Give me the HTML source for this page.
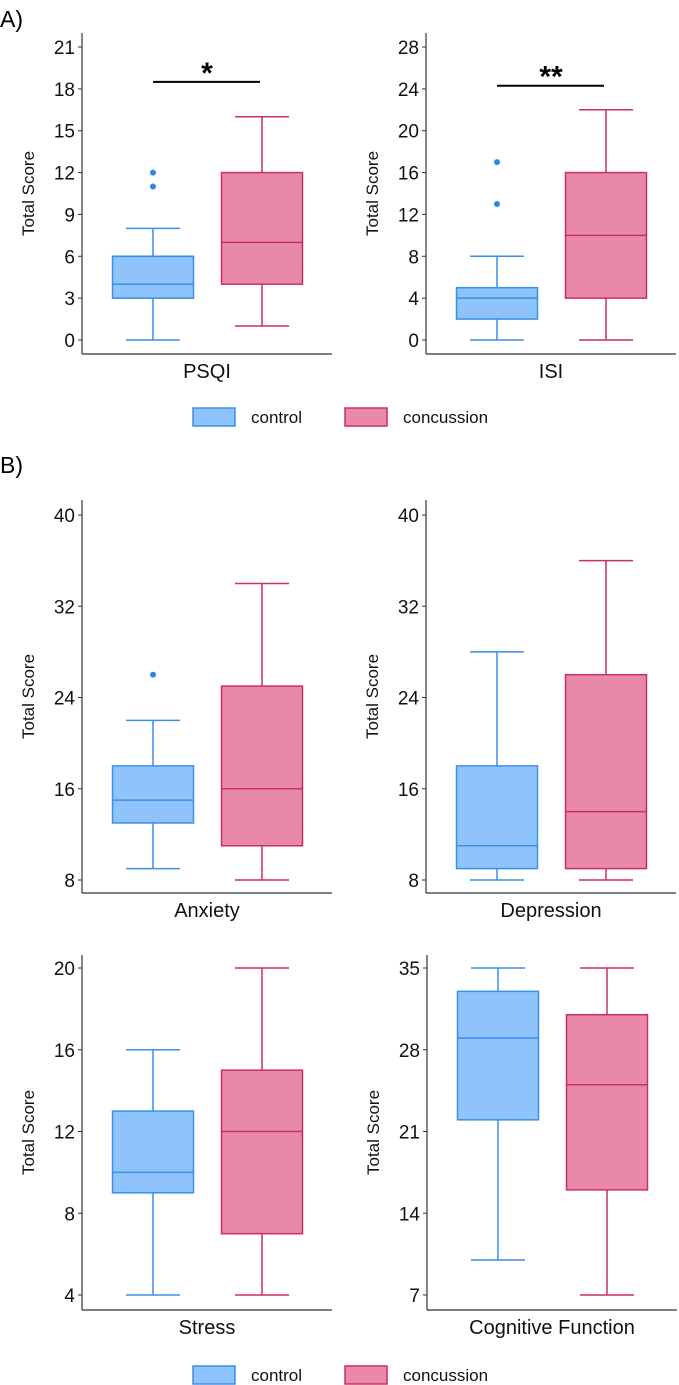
<!DOCTYPE html>
<html><head><meta charset="utf-8">
<style>
html,body{margin:0;padding:0;background:#fff;}
svg{display:block;font-family:"Liberation Sans",Arial,sans-serif;}
</style></head>
<body>
<svg id="chart" width="679" height="1385" viewBox="0 0 679 1385" xmlns="http://www.w3.org/2000/svg">
<text x="0" y="27" font-size="23" fill="#000">A)</text>
<text x="0" y="473" font-size="23" fill="#000">B)</text>
</svg>
<script>
// ---- data ----
const panelNames = ["PSQI","ISI","Anxiety","Depression","Stress","Cognitive Function"];
const yTicksPSQI = [0,3,6,9,12,15,18,21];
const yTicksISI = [0,4,8,12,16,20,24,28];
const yTicksAnx = [8,16,24,32,40];
const yTicksDep = [8,16,24,32,40];
const yTicksStress = [4,8,12,16,20];
const yTicksCog = [7,14,21,28,35];
// [min, q1, median, q3, max]
const controlPSQI = [0,3,4,6,8];
const concussPSQI = [1,4,7,12,16];
const controlISI = [0,2,4,5,8];
const concussISI = [0,4,10,16,22];
const controlAnx = [9,13,15,18,22];
const concussAnx = [8,11,16,25,34];
const controlDep = [8,9,11,18,28];
const concussDep = [8,9,14,26,36];
const controlStress = [4,9,10,13,16];
const concussStress = [4,7,12,15,20];
const controlCog = [10,22,29,33,35];
const concussCog = [7,16,25,31,35];
const outControlPSQI = [11,12];
const outControlISI = [13,17];
const outControlAnx = [26];
const sigPSQI = {y:18.5, label:"*"};
const sigISI = {y:24.3, label:"**"};
const legendLabels = ["control","concussion"];

const NS="http://www.w3.org/2000/svg";
const svg=document.getElementById('chart');
const COL={control:{fill:"#8fc3fb",stroke:"#3a8fe8"},concussion:{fill:"#e889a8",stroke:"#cb2f62"}};
function mk(tag,attrs,parent){const e=document.createElementNS(NS,tag);for(const k in attrs)e.setAttribute(k,attrs[k]);(parent||svg).appendChild(e);return e;}

function panel(cfg){
  const g=mk('g',{});
  
  
  const lo=cfg.ticks[0],hi=cfg.ticks[cfg.ticks.length-1];
  const y=v=>cfg.yLo+(v-lo)*(cfg.yHi-cfg.yLo)/(hi-lo);
  const ax=cfg.ax;
  const ya=mk('line',{x1:ax,x2:ax,y1:cfg.top,y2:cfg.bottom,stroke:"#333","stroke-width":1.2},g);
  
  
  const xa=mk('line',{x1:ax,x2:ax+250,y1:cfg.bottom,y2:cfg.bottom,stroke:"#333","stroke-width":1.2},g);
  
  
  cfg.ticks.forEach(t=>{
    const ty=y(t);
    mk('line',{x1:ax-4,x2:ax,y1:ty,y2:ty,stroke:"#333","stroke-width":1},g);
    const tx=mk('text',{x:ax-7,y:ty+7,"font-size":19,"text-anchor":"end",fill:"#111"},g);
    tx.textContent=t;
    
    
  });
  const yt=mk('text',{x:0,y:0,"font-size":17,"text-anchor":"middle",fill:"#111",transform:`translate(${ax-48},${(cfg.top+cfg.bottom)/2}) rotate(-90)`},g);
  yt.textContent="Total Score";
  
  
  const xt=mk('text',{x:ax+125,y:cfg.bottom+24,"font-size":20,"text-anchor":"middle",fill:"#111"},g);
  xt.textContent=cfg.name;
  
  
  [[cfg.ctrl,'control',ax+71],[cfg.conc,'concussion',ax+180]].forEach(([d,k,cx])=>{
    const c=COL[k];
    const bg=mk('g',{},g);
    
    
    mk('line',{x1:cx,x2:cx,y1:y(d[0]),y2:y(d[1]),stroke:c.stroke,"stroke-width":1.5},bg);
    mk('line',{x1:cx,x2:cx,y1:y(d[3]),y2:y(d[4]),stroke:c.stroke,"stroke-width":1.5},bg);
    mk('line',{x1:cx-27,x2:cx+27,y1:y(d[0]),y2:y(d[0]),stroke:c.stroke,"stroke-width":1.5},bg);
    mk('line',{x1:cx-27,x2:cx+27,y1:y(d[4]),y2:y(d[4]),stroke:c.stroke,"stroke-width":1.5},bg);
    mk('rect',{x:cx-40.5,y:y(d[3]),width:81,height:y(d[1])-y(d[3]),fill:c.fill,stroke:c.stroke,"stroke-width":1.5},bg);
    mk('line',{x1:cx-40.5,x2:cx+40.5,y1:y(d[2]),y2:y(d[2]),stroke:c.stroke,"stroke-width":1.5},bg);
  });
  (cfg.out||[]).forEach(v=>{
    const o=mk('circle',{cx:ax+71,cy:y(v),r:3,fill:"#2f86e6"},g);
    
    
  });
  if(cfg.sig){
    const sy=y(cfg.sig.y);
    const sl=mk('line',{x1:ax+71,x2:ax+178,y1:sy,y2:sy,stroke:"#000","stroke-width":2},g);
    
    
    const st=mk('text',{x:ax+125,y:sy+1,"font-size":30,"text-anchor":"middle",fill:"#000","font-weight":"bold"},g);
    st.textContent=cfg.sig.label;
    
    
  }
}
const topA=33,botA=354,topB=500,botB=893,topC=955,botC=1310;
panel({id:'psqi',name:panelNames[0],ax:82,top:topA,bottom:botA,ticks:yTicksPSQI,yLo:340,yHi:47,ctrl:controlPSQI,conc:concussPSQI,out:outControlPSQI,sig:sigPSQI});
panel({id:'isi',name:panelNames[1],ax:426,top:topA,bottom:botA,ticks:yTicksISI,yLo:340,yHi:47,ctrl:controlISI,conc:concussISI,out:outControlISI,sig:sigISI});
panel({id:'anxiety',name:panelNames[2],ax:82,top:topB,bottom:botB,ticks:yTicksAnx,yLo:880,yHi:515,ctrl:controlAnx,conc:concussAnx,out:outControlAnx});
panel({id:'depression',name:panelNames[3],ax:426,top:topB,bottom:botB,ticks:yTicksDep,yLo:880,yHi:515,ctrl:controlDep,conc:concussDep});
panel({id:'stress',name:panelNames[4],ax:82,top:topC,bottom:botC,ticks:yTicksStress,yLo:1295,yHi:968,ctrl:controlStress,conc:concussStress});
panel({id:'cognitive',name:panelNames[5],ax:427,top:topC,bottom:botC,ticks:yTicksCog,yLo:1295,yHi:968,ctrl:controlCog,conc:concussCog});

function legend(yc,id){
  const g=mk('g',{});
  
  
  [['control',193,251],['concussion',345,403]].forEach(([k,bx,tx],i)=>{
    const r=mk('rect',{x:bx,y:yc-9,width:42,height:18,fill:COL[k].fill,stroke:COL[k].stroke,"stroke-width":1.5},g);
    
    
    const t=mk('text',{x:tx,y:yc+6,"font-size":17,fill:"#111"},g);
    t.textContent=legendLabels[i];
    
    
  });
}
legend(417,'legend-top');
legend(1375,'legend-bottom');
</script>
</body></html>
